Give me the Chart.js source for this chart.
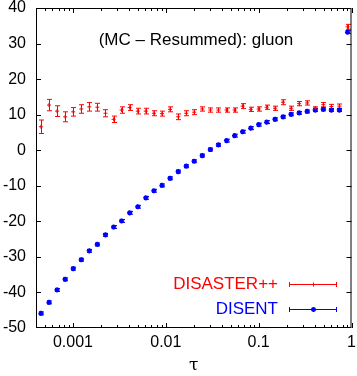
<!DOCTYPE html>
<html>
<head>
<meta charset="utf-8">
<script src="https://cdn.jsdelivr.net/npm/chart.js@4.4.1/dist/chart.umd.min.js"></script>
<style>
  body { margin: 0; background: #fff; }
  #wrap { width: 357px; height: 376px; }
</style>
</head>
<body>
<div id="wrap"><canvas id="myChart" width="357" height="376"></canvas></div>
<script>
// tau bins (log spaced)
var tau = [0.000452, 0.000552, 0.000674, 0.000824, 0.001007, 0.00123, 0.0015, 0.00183, 0.00224, 0.00274,
           0.00334, 0.00408, 0.00499, 0.00609, 0.00744, 0.00909, 0.0111, 0.0136, 0.0166, 0.0202,
           0.0247, 0.0302, 0.0369, 0.0451, 0.0551, 0.0672, 0.0821, 0.100, 0.122, 0.150,
           0.183, 0.223, 0.273, 0.333, 0.407, 0.497, 0.607, 0.741, 0.906];

var disasterVals = [6.6, 12.7, 11.0, 9.4, 10.8, 11.6, 12.2, 12.1, 10.4, 8.7,
                    11.3, 12.0, 11.0, 11.0, 10.4, 10.3, 11.5, 9.4, 10.4, 10.7,
                    11.6, 11.3, 11.3, 11.3, 11.3, 12.4, 11.5, 11.6, 12.1, 11.8,
                    13.5, 11.8, 13.1, 13.3, 11.9, 12.8, 12.3, 12.4, 34.7];
var disasterErr = [1.9, 1.6, 1.5, 1.4, 1.2, 1.2, 1.2, 1.1, 1.0, 0.9,
                   0.9, 0.8, 0.8, 0.8, 0.7, 0.7, 0.7, 0.8, 0.7, 0.7,
                   0.6, 0.6, 0.6, 0.6, 0.6, 0.7, 0.6, 0.6, 0.6, 0.6,
                   0.7, 0.6, 0.6, 0.6, 0.3, 0.6, 0.6, 0.6, 0.7];

var disentVals = [-45.9, -42.8, -39.3, -36.3, -33.3, -30.8, -28.3, -26.5, -23.8, -21.6,
                  -19.9, -17.6, -15.9, -13.4, -11.4, -9.9, -7.9, -6.0, -4.5, -3.1,
                  -1.5, 0.2, 1.5, 2.7, 4.1, 5.2, 6.2, 7.2, 7.9, 8.7,
                  9.4, 10.1, 10.5, 10.9, 11.3, 11.5, 11.3, 11.3, 33.2];
var disentErr = [0.4, 0.4, 0.4, 0.4, 0.4, 0.4, 0.4, 0.4, 0.4, 0.4,
                 0.4, 0.4, 0.4, 0.4, 0.4, 0.4, 0.4, 0.4, 0.4, 0.4,
                 0.4, 0.4, 0.4, 0.4, 0.4, 0.4, 0.4, 0.4, 0.4, 0.4,
                 0.4, 0.4, 0.4, 0.4, 0.4, 0.4, 0.4, 0.4, 0.4];

var xTickVals = [0.001, 0.01, 0.1, 1];
var chartTitle = '(MC \u2013 Resummed): gluon';

var FONT = '"Liberation Sans", Arial, sans-serif';
var RED = '#ff0000', BLUE = '#0000ff';

function pts(xs, ys){
    var out = [];
    for (var i=0; i < xs.length; i++) out.push({x: xs[i], y: ys[i]});
    return out;
}

// error bars, frame with inward ticks, title and gnuplot-ish key
var gnuplotStuff = {
    id: 'gnuplotStuff',
    beforeDatasetsDraw: function(chart){
        var ctx = chart.ctx, xs = chart.scales.x, ys = chart.scales.y;
        var errs = [disasterErr, disentErr];
        ctx.save();
        ctx.lineWidth = 1;
        chart.data.datasets.forEach(function(ds, d){
            ctx.strokeStyle = ds.borderColor;
            ctx.beginPath();
            for (var i=0; i < ds.data.length; i++){
                var px = Math.round(xs.getPixelForValue(ds.data[i].x)) + 0.5;
                var y1 = ys.getPixelForValue(ds.data[i].y + errs[d][i]);
                var y2 = ys.getPixelForValue(ds.data[i].y - errs[d][i]);
                ctx.moveTo(px, y1); ctx.lineTo(px, y2);
                ctx.moveTo(px - 2.5, y1); ctx.lineTo(px + 2.5, y1);
                ctx.moveTo(px - 2.5, y2); ctx.lineTo(px + 2.5, y2);
            }
            ctx.stroke();
        });
        ctx.restore();
    },
    afterDraw: function(chart){
        var ctx = chart.ctx, a = chart.chartArea;
        var xs = chart.scales.x, ys = chart.scales.y;
        ctx.save();
        ctx.strokeStyle = '#000';
        ctx.lineWidth = 1;
        ctx.strokeRect(a.left + 0.5, a.top + 0.5, a.right - a.left - 1, a.bottom - a.top - 1);
        ctx.beginPath();
        // x ticks, major and minor, bottom and top
        for (var e = -4; e <= 0; e++){
            for (var m = 1; m <= 9; m++){
                var v = m * Math.pow(10, e);
                if (v < xs.min || v > xs.max) continue;
                var px = Math.round(xs.getPixelForValue(v)) + 0.5;
                var len = (m === 1) ? 5 : 3;
                ctx.moveTo(px, a.bottom); ctx.lineTo(px, a.bottom - len);
                ctx.moveTo(px, a.top); ctx.lineTo(px, a.top + len);
            }
        }
        // y ticks left and right
        for (var t = -40; t <= 30; t += 10){
            var py = Math.round(ys.getPixelForValue(t)) + 0.5;
            ctx.moveTo(a.left, py); ctx.lineTo(a.left + 5, py);
            ctx.moveTo(a.right, py); ctx.lineTo(a.right - 5, py);
        }
        ctx.stroke();

        // title inside the plot
        ctx.fillStyle = '#000';
        ctx.font = '17px ' + FONT;
        ctx.textAlign = 'center';
        ctx.textBaseline = 'middle';
        ctx.fillText(chartTitle, 196, 40);

        // key
        var keyY = [284, 309];
        ctx.textAlign = 'right';
        chart.data.datasets.forEach(function(ds, d){
            var y = keyY[d] + 0.5;
            ctx.fillStyle = ds.borderColor;
            ctx.fillText(ds.label, 278, y);
            ctx.strokeStyle = ds.borderColor;
            ctx.lineWidth = 1;
            ctx.beginPath();
            ctx.moveTo(289.5, y); ctx.lineTo(336.5, y);
            ctx.moveTo(289.5, y - 2.5); ctx.lineTo(289.5, y + 2.5);
            ctx.moveTo(336.5, y - 2.5); ctx.lineTo(336.5, y + 2.5);
            ctx.stroke();
            ctx.lineWidth = ds.borderWidth;
            Chart.helpers.drawPoint(ctx, {
                pointStyle: ds.pointStyle, radius: ds.pointRadius, borderWidth: ds.borderWidth,
                rotation: 0
            }, 313.5, y);
        });
        ctx.restore();
    }
};

var ctx = document.getElementById('myChart').getContext('2d');
var myChart = new Chart(ctx, {
    type: 'scatter',
    data: {
        datasets: [{
            label: 'DISASTER++',
            data: pts(tau, disasterVals),
            borderColor: RED,
            backgroundColor: RED,
            pointStyle: 'cross',
            pointRadius: 2,
            borderWidth: 1
        }, {
            label: 'DISENT',
            data: pts(tau, disentVals),
            borderColor: BLUE,
            backgroundColor: BLUE,
            pointStyle: 'star',
            pointRadius: 2.6,
            borderWidth: 1.5
        }]
    },
    options: {
        responsive: false,
        animation: false,
        events: [],
        layout: { padding: { top: 8, right: 1, left: 0, bottom: 0 } },
        plugins: { legend: { display: false }, tooltip: { enabled: false }, title: { display: false } },
        scales: {
            x: {
                type: 'logarithmic',
                min: 0.0004,
                max: 1,
                grid: { display: false, drawTicks: false },
                border: { display: false },
                afterBuildTicks: function(scale){
                    scale.ticks = xTickVals.map(function(v){ return {value: v}; });
                },
                ticks: {
                    autoSkip: false,
                    maxRotation: 0,
                    padding: 5,
                    color: '#000',
                    font: { family: FONT, size: 16 },
                    callback: function(value){ return String(value); }
                },
                title: {
                    display: true,
                    text: '\u03c4',
                    color: '#000',
                    font: { family: '"DejaVu Serif", serif', size: 17 },
                    padding: { top: 0, bottom: 0 }
                },
                afterFit: function(scale){
                    scale.height = 48;
                    scale.paddingLeft = 0;
                    scale.paddingRight = 0;
                }
            },
            y: {
                min: -50,
                max: 40,
                grid: { display: false, drawTicks: false },
                border: { display: false },
                ticks: {
                    stepSize: 10,
                    padding: 10,
                    color: '#000',
                    font: { family: FONT, size: 16 }
                },
                afterFit: function(scale){
                    scale.width = 36;
                    scale.paddingTop = 0;
                    scale.paddingBottom = 0;
                }
            }
        }
    },
    plugins: [gnuplotStuff]
});
</script>
</body>
</html>
